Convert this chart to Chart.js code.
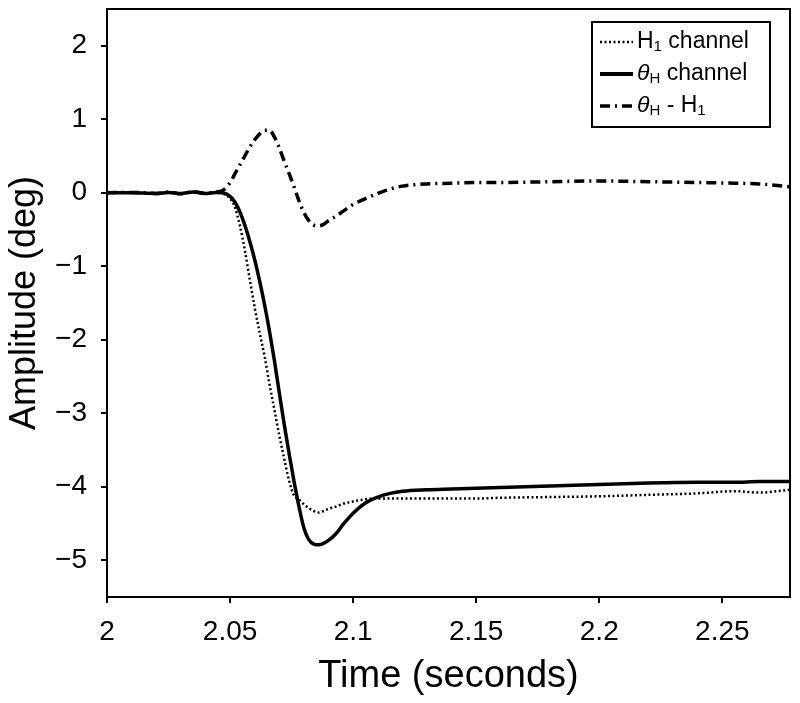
<!DOCTYPE html>
<html>
<head>
<meta charset="utf-8">
<script src="https://cdn.jsdelivr.net/npm/chart.js@4/dist/chart.umd.min.js"></script>
<style>
  html, body { margin: 0; padding: 0; background: #fff; }
  #wrap { width: 800px; height: 703px; }
</style>
</head>
<body>
<div id="wrap"><canvas id="myChart" width="800" height="703"></canvas></div>
<script>
// time axis (seconds)
const times = [2.000, 2.010, 2.020, 2.025, 2.030, 2.035, 2.040, 2.044,
    2.047, 2.050, 2.052, 2.054, 2.056, 2.058, 2.060, 2.062, 2.064, 2.066,
    2.068, 2.070, 2.072, 2.074, 2.076, 2.078, 2.080, 2.082, 2.084, 2.086,
    2.088, 2.090, 2.093, 2.096, 2.100, 2.105, 2.110, 2.115, 2.120, 2.130,
    2.140, 2.150, 2.160, 2.180, 2.200, 2.220, 2.240, 2.255, 2.265, 2.2775];

// H1 channel (dotted)
const h1Channel = [0, 0, -0.01, 0.005, -0.01, 0.01, -0.01, 0.005,
    -0.01, -0.08, -0.2, -0.45, -0.78, -1.18, -1.56, -1.9, -2.22, -2.6,
    -2.95, -3.3, -3.62, -3.92, -4.12, -4.17, -4.24, -4.29, -4.33, -4.35,
    -4.33, -4.30, -4.27, -4.23, -4.2, -4.17, -4.16, -4.16, -4.16, -4.16,
    -4.16, -4.16, -4.15, -4.14, -4.13, -4.11, -4.09, -4.06, -4.08, -4.04];

// thetaH channel (solid)
const thetaH = [0, 0, -0.01, 0.005, -0.01, 0.01, -0.01, 0.005,
    0.0, -0.05, -0.13, -0.26, -0.44, -0.66, -0.91, -1.2, -1.52, -1.88,
    -2.28, -2.72, -3.15, -3.55, -3.93, -4.27, -4.56, -4.72, -4.78, -4.79,
    -4.77, -4.73, -4.64, -4.51, -4.36, -4.22, -4.14, -4.09, -4.06, -4.04,
    -4.03, -4.02, -4.01, -3.99, -3.97, -3.95, -3.94, -3.94, -3.93, -3.93];

// thetaH - H1 (dash-dot)
const diffThetaH1 = [0, 0.005, -0.01, 0.01, -0.015, 0.015, -0.01, 0.01,
    0.03, 0.14, 0.26, 0.38, 0.5, 0.62, 0.72, 0.8, 0.85, 0.85,
    0.76, 0.61, 0.43, 0.26, 0.08, -0.11, -0.27, -0.38, -0.44, -0.45,
    -0.43, -0.38, -0.32, -0.25, -0.16, -0.08, -0.01, 0.05, 0.09, 0.12,
    0.13, 0.14, 0.14, 0.15, 0.16, 0.15, 0.14, 0.13, 0.12, 0.08];

const xTickValues = [2, 2.05, 2.1, 2.15, 2.2, 2.25];
const yTickValues = [-5, -4, -3, -2, -1, 0, 1, 2];

const FONT = "'Liberation Sans', Arial, Helvetica, sans-serif";

function toPoints(arr) {
    return times.map((t, i) => ({ x: t, y: arr[i] }));
}

// frame round the plot area
const framePlugin = {
    id: 'frame',
    afterDatasetsDraw(chart) {
        const { ctx, chartArea: a } = chart;
        ctx.save();
        ctx.strokeStyle = '#000';
        ctx.lineWidth = 2;
        ctx.strokeRect(a.left, a.top, a.right - a.left, a.bottom - a.top);
        ctx.restore();
    }
};

// legend with subscripts, drawn by hand
const legendPlugin = {
    id: 'subLegend',
    afterDraw(chart) {
        const ctx = chart.ctx;
        const bx = 592, by = 22, bw = 178, bh = 105;
        ctx.save();
        ctx.fillStyle = '#fff';
        ctx.fillRect(bx, by, bw, bh);
        ctx.strokeStyle = '#000';
        ctx.lineWidth = 2;
        ctx.strokeRect(bx, by, bw, bh);

        const rows = [
            { y: 42, dash: [2, 2.5], width: 2.5, parts: [['H', 0], ['1', 1], [' channel', 0]] },
            { y: 74, dash: [], width: 4, parts: [['\u03b8', 2], ['H', 1], [' channel', 0]] },
            { y: 106, dash: [10, 5, 2, 5], width: 3.5, parts: [['\u03b8', 2], ['H', 1], [' - H', 0], ['1', 1]] }
        ];
        rows.forEach(r => {
            ctx.beginPath();
            ctx.setLineDash(r.dash);
            ctx.lineWidth = r.width;
            ctx.moveTo(600, r.y);
            ctx.lineTo(633, r.y);
            ctx.stroke();
            ctx.setLineDash([]);

            let x = 637;
            ctx.fillStyle = '#000';
            ctx.textBaseline = 'middle';
            r.parts.forEach(([txt, kind]) => {
                if (kind === 1) {
                    ctx.font = '15px ' + FONT;
                    ctx.fillText(txt, x, r.y + 5);
                } else if (kind === 2) {
                    ctx.font = 'italic 23px ' + FONT;
                    ctx.fillText(txt, x, r.y);
                } else {
                    ctx.font = '23px ' + FONT;
                    ctx.fillText(txt, x, r.y);
                }
                x += ctx.measureText(txt).width;
            });
        });
        ctx.restore();
    }
};

const ctx = document.getElementById('myChart').getContext('2d');
const chart = new Chart(ctx, {
    type: 'line',
    data: {
        datasets: [
            {
                label: 'H1 channel',
                data: toPoints(h1Channel),
                borderColor: '#000',
                borderWidth: 2.5,
                borderDash: [2, 2.5],
                pointRadius: 0,
                cubicInterpolationMode: 'monotone'
            },
            {
                label: '\u03b8H channel',
                data: toPoints(thetaH),
                borderColor: '#000',
                borderWidth: 3.5,
                pointRadius: 0,
                cubicInterpolationMode: 'monotone'
            },
            {
                label: '\u03b8H - H1',
                data: toPoints(diffThetaH1),
                borderColor: '#000',
                borderWidth: 3.5,
                borderDash: [10, 5, 2, 5],
                pointRadius: 0,
                cubicInterpolationMode: 'monotone'
            }
        ]
    },
    options: {
        responsive: false,
        animation: false,
        layout: { padding: { top: 9, right: 10, left: 0, bottom: 0 } },
        plugins: {
            legend: { display: false },
            tooltip: { enabled: false }
        },
        scales: {
            x: {
                type: 'linear',
                min: 2,
                max: 2.2775,
                afterBuildTicks: s => { s.ticks = xTickValues.map(v => ({ value: v })); },
                afterFit: s => {
                    s.height = 106;
                    s.paddingLeft = 0;
                    s.paddingRight = 0;
                },
                grid: { drawOnChartArea: false, drawTicks: true, tickLength: 6, color: '#000', lineWidth: 2 },
                border: { display: true, color: '#000', width: 2 },
                ticks: {
                    color: '#000',
                    padding: 12,
                    maxRotation: 0,
                    font: { family: FONT, size: 28 },
                    callback: v => String(v)
                },
                title: {
                    display: true,
                    text: 'Time (seconds)',
                    color: '#000',
                    font: { family: FONT, size: 38 },
                    padding: { top: 0, bottom: 4 }
                }
            },
            y: {
                type: 'linear',
                min: -5.5,
                max: 2.5,
                afterBuildTicks: s => { s.ticks = yTickValues.map(v => ({ value: v })); },
                afterFit: s => {
                    s.width = 107;
                    s.paddingTop = 0;
                    s.paddingBottom = 0;
                },
                grid: { drawOnChartArea: false, drawTicks: true, tickLength: 6, color: '#000', lineWidth: 2 },
                border: { display: true, color: '#000', width: 2 },
                ticks: {
                    color: '#000',
                    padding: 14,
                    font: { family: FONT, size: 28 },
                    callback: v => String(v).replace('-', '\u2212')
                },
                title: {
                    display: true,
                    text: 'Amplitude (deg)',
                    color: '#000',
                    font: { family: FONT, size: 36 },
                    padding: { top: 3, bottom: 0 }
                }
            }
        }
    },
    plugins: [framePlugin, legendPlugin]
});
</script>
</body>
</html>
